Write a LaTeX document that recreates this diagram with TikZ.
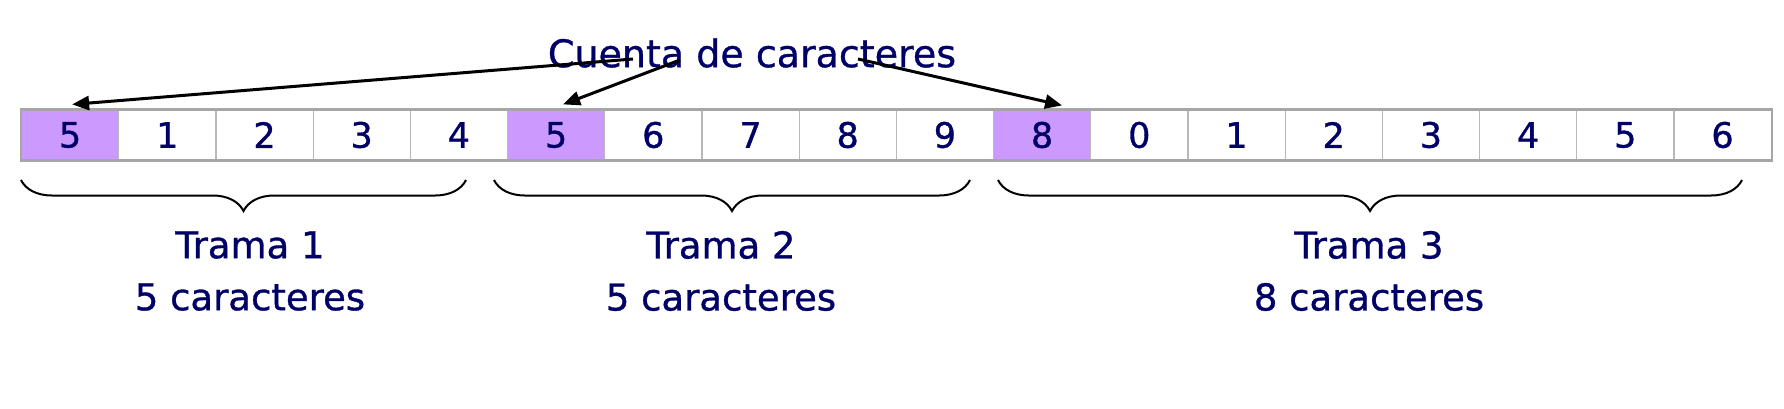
\documentclass[tikz,border=0pt]{standalone}
\usepackage{fontspec}
\setmainfont{DejaVu Sans}
\newfontfamily\inkfont{DejaVu Sans}[FakeBold=0.9]
\usetikzlibrary{arrows.meta,decorations.pathreplacing}
\definecolor{ink}{HTML}{000066}
\definecolor{lila}{HTML}{CC99FF}
\definecolor{gridgray}{HTML}{B8B8B8}
\definecolor{edgegray}{HTML}{A6A6A6}

\begin{document}
\begin{tikzpicture}[x=1pt, y=-1pt, node distance=97.2pt,
    datacell/.style={draw=gridgray, line width=1.2pt, minimum width=97.2pt, minimum height=50pt, inner sep=0pt, text=ink, font=\inkfont\fontsize{35}{40}\selectfont},
    countcell/.style={datacell, fill=lila},
    framelabel/.style={text=ink, align=center, font=\inkfont\fontsize{37}{52}\selectfont},
    framebrace/.style={decorate, decoration={brace, mirror, amplitude=31pt}, line width=2pt}]
    \useasboundingbox (0,0) rectangle (1784,408);

      % frame 1
      \node[countcell] (c1) at (70.1,135) {5};
      \node[datacell] (c2) [right of=c1] {1};
      \node[datacell] (c3) [right of=c2] {2};
      \node[datacell] (c4) [right of=c3] {3};
      \node[datacell] (c5) [right of=c4] {4};
      % frame 2
      \node[countcell] (c6) [right of=c5] {5};
      \node[datacell] (c7) [right of=c6] {6};
      \node[datacell] (c8) [right of=c7] {7};
      \node[datacell] (c9) [right of=c8] {8};
      \node[datacell] (c10) [right of=c9] {9};
      % frame 3
      \node[countcell] (c11) [right of=c10] {8};
      \node[datacell] (c12) [right of=c11] {0};
      \node[datacell] (c13) [right of=c12] {1};
      \node[datacell] (c14) [right of=c13] {2};
      \node[datacell] (c15) [right of=c14] {3};
      \node[datacell] (c16) [right of=c15] {4};
      \node[datacell] (c17) [right of=c16] {5};
      \node[datacell] (c18) [right of=c17] {6};
      \draw[edgegray, line width=2.4pt] (c1.north west) rectangle (c18.south east);

      \node[text=ink, font=\inkfont\fontsize{38}{40}\selectfont] (title) at (752,53) {Cuenta de caracteres};

      \coordinate (s1) at (633,59);
      \coordinate (s2) at (680,60);
      \coordinate (s3) at (858,59);
      \coordinate (t1) at ([xshift=2pt, yshift=5pt]c1.north);
      \coordinate (t2) at ([xshift=7pt, yshift=5pt]c6.north);
      \coordinate (t3) at ([xshift=20pt, yshift=4pt]c11.north);

      \path[-{Triangle[length=17pt, width=14pt]}, line width=3pt]
        (s1) edge (t1)
        (s2) edge (t2)
        (s3) edge (t3);

      % braces under the frames
      \coordinate (b1) at (21,180);
      \coordinate (b2) at (466,180);
      \coordinate (b3) at (494,180);
      \coordinate (b4) at (970,180);
      \coordinate (b5) at (998,180);
      \coordinate (b6) at (1742,180);
      \draw[framebrace] (b1) -- (b2);
      \draw[framebrace] (b3) -- (b4);
      \draw[framebrace] (b5) -- (b6);

      \node[framelabel] (l1) at (250,271) {Trama 1\\5 caracteres};
      \node[framelabel] (l2) at (721,271) {Trama 2\\5 caracteres};
      \node[framelabel] (l3) at (1369,271) {Trama 3\\8 caracteres};

\end{tikzpicture}
\end{document}
